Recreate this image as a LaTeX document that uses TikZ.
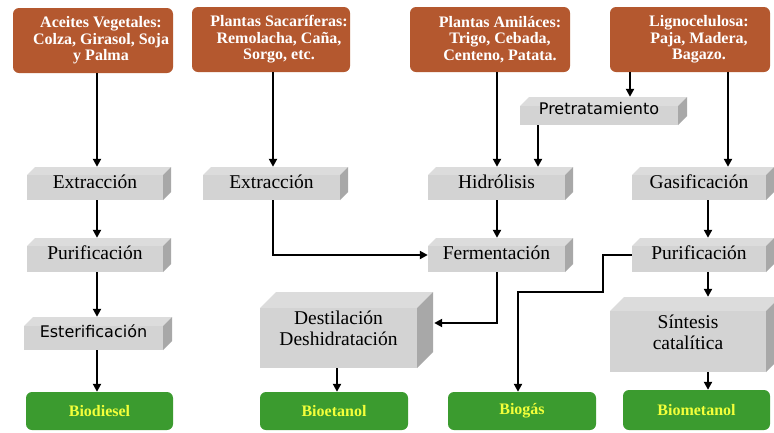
\documentclass[tikz,border=0pt]{standalone}
\usepackage{fontspec}
\setmainfont{Liberation Serif}
\newfontfamily\sansf{DejaVu Sans}
\usetikzlibrary{arrows.meta,calc}
\definecolor{brownc}{HTML}{B4582F}
\definecolor{greenc}{HTML}{3B9B2F}
\definecolor{yellowc}{HTML}{F2FF3A}
\definecolor{gfrontc}{HTML}{D3D3D3}
\definecolor{gtopc}{HTML}{DCDCDC}
\definecolor{gsidec}{HTML}{A8A8A8}
\tikzset{
  bbox/.style={fill=brownc, rounded corners=6pt, inner sep=0pt},
  btext/.style={text=white, font=\bfseries\fontsize{16}{16.5}\selectfont, align=center, inner sep=0pt},
  resbox/.style={fill=greenc, rounded corners=6pt, inner sep=0pt, text=yellowc, font=\bfseries\fontsize{16}{18}\selectfont},
  gtext/.style={font=\fontsize{19.5}{21}\selectfont, align=center, inner sep=0pt},
  arr/.style={draw=black, line width=2.2pt, -{Triangle[length=8pt,width=8pt]}},
}
% name, x0, y0, x1, y1, depth, text
\newcommand\gbx[7]{%
  \fill[gtopc] (#2,#3+#6) -- (#2+#6,#3) -- (#4+#6,#3) -- (#4,#3+#6) -- cycle;
  \fill[gsidec] (#4,#3+#6) -- (#4+#6,#3) -- (#4+#6,#5-#6) -- (#4,#5) -- cycle;
  \fill[gfrontc] (#2,#3+#6) rectangle (#4,#5);
  \node[inner sep=0pt, minimum width={#4-#2}, minimum height={#5-#3}] (#1) at ({(#2+#4)/2},{(#3+#5)/2}) {};
  \node[gtext] at ({(#2+#4)/2},{(#3+#5)/2-2}) {#7};
}
\begin{document}
\begin{tikzpicture}[x=1pt,y=-1pt]
\useasboundingbox (0,0) rectangle (774,432);
\fill[white] (0,0) rectangle (774,432);

% source boxes
\node[bbox, minimum width=160pt, minimum height=65pt] (a1) at (93,40.5) {};
\node[btext] at ([xshift=8pt]a1.center) {Aceites Vegetales:\\Colza, Girasol, Soja\\y Palma};
\node[bbox, minimum width=158pt, minimum height=65pt] (a2) at (271,39.5) {};
\node[btext] at ([xshift=8pt]a2.center) {Plantas Sacaríferas:\\Remolacha, Caña,\\Sorgo, etc.};
\node[bbox, minimum width=160pt, minimum height=65pt] (a3) at (490,39.5) {};
\node[btext] at ([xshift=10pt]a3.center) {Plantas Amiláces:\\Trigo, Cebada,\\Centeno, Patata.};
\node[bbox, minimum width=160pt, minimum height=65pt] (a4) at (690,39.5) {};
\node[btext] at ([xshift=9pt]a4.center) {Lignocelulosa:\\Paja, Madera,\\Bagazo.};

% process boxes
\gbx{ext1}{27}{167}{163}{200}{8}{Extracción}
\gbx{pur1}{27}{238}{163}{272}{8}{Purificación}
\gbx{est1}{24}{317}{163}{350}{9}{\sansf\fontsize{16}{18}\selectfont Esterificación}
\gbx{ext2}{203}{167}{340}{200}{8}{Extracción}
\gbx{pre}{520}{97}{678}{125}{9}{\sansf\fontsize{16}{18}\selectfont Pretratamiento}
\gbx{hid}{428}{167}{565}{200}{8}{Hidrólisis}
\gbx{fer}{428}{238}{565}{272}{8}{Fermentación}
\gbx{gas}{632}{167}{766}{200}{8}{Gasificación}
\gbx{pur2}{632}{238}{766}{272}{8}{Purificación}
\gbx{des}{260}{292}{417}{368}{16}{Destilación\\Deshidratación}
\gbx{sin}{610}{297}{766}{372}{14}{Síntesis\\catalítica}

% products
\node[resbox, minimum width=147pt, minimum height=38pt] (bd) at (99.5,411) {Biodiesel};
\node[resbox, minimum width=148pt, minimum height=38pt] (be) at (334,411) {Bioetanol};
\node[resbox, minimum width=148pt, minimum height=38pt] (bg) at (522,411) {Biogás};
\node[resbox, minimum width=147pt, minimum height=40pt] (bm) at (696.5,410) {Biometanol};

% connectors
\draw[arr] (a1.south -| 97,0) -- (ext1.north -| 97,0);
\draw[arr] (ext1.south -| 97,0) -- (pur1.north -| 97,0);
\draw[arr] (pur1.south -| 97,0) -- (est1.north -| 97,0);
\draw[arr] (est1.south -| 97,0) -- (bd.north -| 97,0);
\draw[arr] (a2.south -| 273,0) -- (ext2.north -| 273,0);
\draw[arr] (ext2.south -| 273,0) |- (fer.west);
\draw[arr] (a3.south -| 497,0) -- (hid.north -| 497,0);
\draw[arr] (a4.south -| 630,0) -- (pre.north -| 630,0);
\draw[arr] (a4.south -| 728,0) -- (gas.north -| 728,0);
\draw[arr] (pre.south -| 538,0) -- (hid.north -| 538,0);
\draw[arr] (hid.south -| 497,0) -- (fer.north -| 497,0);
\draw[arr] (fer.south -| 497,0) |- ([xshift=17pt,yshift=7pt]des.east);
\draw[arr] (des.south -| 337,0) -- (be.north -| 337,0);
\draw[arr] (gas.south -| 708,0) -- (pur2.north -| 708,0);
\draw[arr] (pur2.south -| 708,0) -- (sin.north -| 708,0);
\draw[arr] (sin.south -| 708,0) -- (bm.north -| 708,0);
\draw[arr] (pur2.west) -- ++(-29,0) -- ++(0,37) -| (bg.north -| 518,0);
\end{tikzpicture}
\end{document}
